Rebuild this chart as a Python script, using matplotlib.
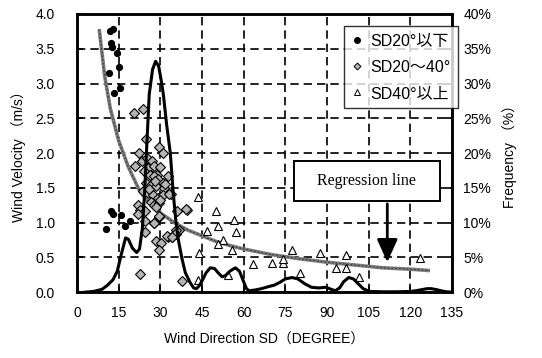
import matplotlib
matplotlib.use("Agg")
import matplotlib.pyplot as plt
from matplotlib.patches import Rectangle
from matplotlib.lines import Line2D

plt.rcParams['font.family'] = ['Liberation Sans', 'Noto Sans CJK JP', 'DejaVu Sans']

# ---- data ----
sd_low_x = [11.9, 13.0, 12.3, 12.7, 14.4, 15.0, 11.5, 15.6, 13.3, 12.2, 12.8, 16.0, 19.2, 17.2, 10.5]
sd_low_y = [3.76, 3.79, 3.58, 3.52, 3.44, 3.24, 3.15, 2.93, 2.87, 1.17, 1.13, 1.11, 1.02, 0.95, 0.91]

sd_mid_x = [20.4, 23.9, 24.8, 22.5, 29.4, 30.8, 20.8, 23.3, 25.1, 27.1, 25.4, 27.7, 29.8, 32.9,
            26.5, 28.8, 24.2, 26.2, 27.9, 29.1, 25.0, 26.7, 28.5, 30.8, 31.4, 33.7, 23.8, 25.6,
            27.3, 29.1, 30.8, 26.7, 27.9, 29.7, 22.1, 22.7, 21.9, 24.4, 29.7, 27.9, 24.4, 36.0,
            39.5, 24.4, 32.6, 34.3, 35.5, 36.6, 28.5, 30.2, 29.7, 22.7, 37.8, 33.1, 39.1, 29.4,
            27.7, 35.8, 35.2, 32.3, 34.1, 28.3, 30.0, 26.0, 31.8, 28.0]
sd_mid_y = [2.58, 2.64, 2.20, 2.00, 2.08, 2.00, 1.81, 1.89, 1.93, 1.88, 1.79, 1.81, 1.80, 1.67,
            1.69, 1.69, 1.74, 1.69, 1.67, 1.62, 1.57, 1.54, 1.52, 1.57, 1.50, 1.41, 1.45, 1.42,
            1.40, 1.36, 1.40, 1.30, 1.25, 1.28, 1.25, 1.18, 1.13, 1.16, 1.08, 0.99, 1.02, 1.16,
            1.18, 0.86, 0.79, 0.79, 0.84, 0.89, 0.74, 0.71, 0.61, 0.26, 0.16, 1.41, 1.19, 1.09,
            1.00, 0.90, 0.83, 0.80, 0.79, 1.22, 1.33, 1.48, 1.55, 1.60]

sd_high_x = [43.7, 50.0, 56.5, 46.9, 50.9, 57.1, 52.7, 50.9, 55.8, 44.0, 43.7, 54.4, 63.3, 70.3,
             74.0, 74.2, 77.4, 80.1, 87.3, 93.4, 96.9, 97.0, 101.5, 123.4]
sd_high_y = [1.37, 1.17, 1.04, 0.88, 0.95, 0.87, 0.75, 0.69, 0.61, 0.56, 0.18, 0.24, 0.40, 0.42,
             0.42, 0.48, 0.61, 0.28, 0.56, 0.34, 0.34, 0.53, 0.22, 0.49]

reg_x = [8.0, 10.0, 12.0, 15.0, 18.5, 22.5, 25.0, 30.0, 35.0, 40.0, 45.0, 50.0, 55.0, 60.0,
         70.0, 80.0, 90.0, 100.0, 110.0, 120.0, 127.0]
reg_y = [3.78, 3.10, 2.64, 2.18, 1.80, 1.46, 1.33, 1.14, 1.00, 0.89, 0.81, 0.73, 0.67, 0.62,
         0.54, 0.48, 0.43, 0.39, 0.35, 0.33, 0.31]

freq_x = [3, 6, 9, 11, 13, 14.5, 16, 17.5, 18.5, 20, 21.5, 22.5, 23.5, 24.3, 25, 26, 27.2, 28.3,
          29.4, 30.3, 31.1, 32.3, 33.6, 34.6, 35.5, 36.5, 37.8, 39, 40.7, 42, 43, 44, 45, 46.5,
          48, 49.5, 51, 52.3, 53.5, 55, 57, 58.5, 59.9, 61, 62, 64, 66.4, 69, 71, 73, 75, 77.4,
          79.5, 82, 84.4, 87, 89.7, 91.5, 93, 94.5, 96, 97.8, 99.5, 101, 103, 105.3, 110, 115,
          120, 122, 124, 126, 127.5, 129.5, 131, 133, 135]
freq_y = [0, 0.1, 0.4, 1.0, 1.8, 3.0, 5.5, 7.8, 7.6, 6.3, 5.7, 6.2, 9.0, 14.0, 20.0, 28.4, 32.0,
          33.2, 32.5, 30.5, 28.4, 24.0, 20.0, 14.5, 10.6, 7.5, 4.8, 2.8, 1.4, 0.6, 0.5, 0.9, 1.6,
          2.8, 3.5, 3.4, 2.7, 2.2, 2.4, 3.0, 3.5, 3.0, 1.6, 0.5, 0.2, 0.3, 0.5, 0.8, 1.0, 1.4,
          1.9, 2.1, 1.9, 1.2, 0.7, 0.6, 0.7, 0.4, 0.2, 0.6, 1.5, 2.1, 1.9, 1.3, 0.5, 0.1, 0.05,
          0.05, 0.1, 0.2, 0.35, 0.5, 0.5, 0.35, 0.2, 0.05, 0]

x_ticks = [0, 15, 30, 45, 60, 75, 90, 105, 120, 135]
y_ticks = [0.0, 0.5, 1.0, 1.5, 2.0, 2.5, 3.0, 3.5, 4.0]
freq_ticks = [0, 5, 10, 15, 20, 25, 30, 35, 40]
legend_labels = ['SD20°以下', 'SD20～40°', 'SD40°以上']

# ---- figure ----
fig = plt.figure(figsize=(5.42, 3.58), dpi=100)
ax = fig.add_axes([0.142, 0.184, 0.692, 0.777])
ax2 = ax.twinx()

ax.set_xlim(0, 135)
ax.set_ylim(0, 4.0)
ax2.set_ylim(0, 40)

ax.set_xticks(x_ticks)
ax.set_yticks(y_ticks)
ax.set_yticklabels([f"{v:.1f}" for v in y_ticks])
ax2.set_yticks(freq_ticks)
ax2.set_yticklabels([f"{v}%" for v in freq_ticks])

ax.grid(True, color='black', linestyle=(0, (5, 3)), linewidth=1.2)
ax.set_axisbelow(True)

for a in (ax, ax2):
    for s in a.spines.values():
        s.set_linewidth(1.8)
        s.set_color('black')
ax.tick_params(axis='both', direction='in', length=4, width=1.2, labelsize=10, pad=10)
ax.tick_params(axis='y', pad=16)
ax2.tick_params(axis='y', direction='in', length=5, width=1.2, labelsize=10, pad=8)

# regression line
ax.plot(reg_x, reg_y, color='#7c7c7c', lw=2.6, solid_capstyle='butt', zorder=3)
ax.plot(reg_x, reg_y, color='#404040', lw=0.9, linestyle=(0, (1.5, 1.5)), zorder=3)

# scatter
ax.plot(sd_low_x, sd_low_y, 'o', ms=4.2, color='black', zorder=4)
ax.plot(sd_mid_x, sd_mid_y, 'D', ms=4.6, mfc='#b4b4b4', mec='black', mew=0.8, zorder=4)
ax.plot(sd_high_x, sd_high_y, '^', ms=5.5, mfc='white', mec='black', mew=0.8, zorder=4)

# frequency curve
ax2.plot(freq_x, freq_y, color='black', lw=2.2, zorder=5)

# regression label box + arrow
ax2.add_patch(Rectangle((78, 13.1), 52.6, 5.8, facecolor='white', edgecolor='black',
                        lw=1.4, zorder=6))
ax2.text(104.3, 16.0, 'Regression line', ha='center', va='center', fontsize=11.5,
         family=['Liberation Serif', 'DejaVu Serif'], zorder=7)
ax2.annotate('', xy=(111.7, 3.9), xytext=(111.7, 13.1),
             arrowprops=dict(arrowstyle='-|>,head_length=1.0,head_width=0.45', lw=2,
                             color='black', mutation_scale=14), zorder=7)

# legend
handles = [
    Line2D([], [], marker='o', ls='none', ms=4, color='black'),
    Line2D([], [], marker='D', ls='none', ms=3.5, mfc='#b4b4b4', mec='black', mew=0.7),
    Line2D([], [], marker='^', ls='none', ms=4.5, mfc='white', mec='black', mew=0.7),
]
leg = ax2.legend(handles, legend_labels, loc='upper right', bbox_to_anchor=(1.015, 0.955),
                 fontsize=11.5, frameon=True, fancybox=False, edgecolor='black',
                 handlelength=0.8, handletextpad=0.4, labelspacing=0.7, borderpad=0.45,
                 borderaxespad=0.0)
leg.get_frame().set_linewidth(1.0)
leg.set_zorder(10)

ax.set_xlabel('Wind Direction SD（DEGREE）', fontsize=10, labelpad=9)
ax.set_ylabel('Wind Velocity （m/s）', fontsize=10, labelpad=7)
ax2.set_ylabel('Frequency （%）', fontsize=10, labelpad=8)

fig.savefig('out.png', dpi=100)
